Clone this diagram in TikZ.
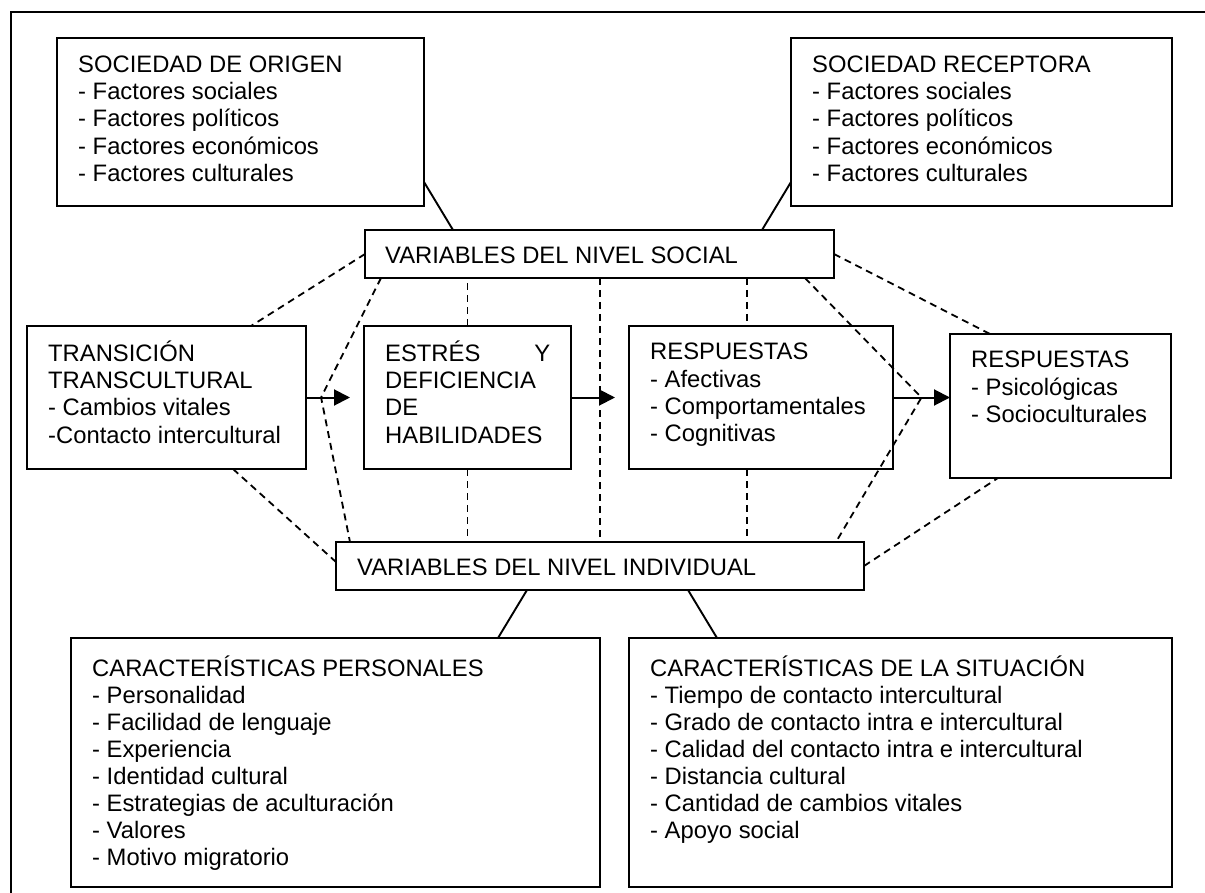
\documentclass[tikz,border=0pt]{standalone}
\usepackage{fontspec}
\setmainfont{Liberation Sans}
\usetikzlibrary{arrows.meta,calc}
\begin{document}
\begin{tikzpicture}[x=1pt,y=-1pt,
  box/.style={draw,line width=2.4pt,inner sep=0pt,outer sep=0pt,anchor=north west},
  txt/.style={anchor=north west,inner sep=0pt,align=left,
    font=\fontsize{23.8}{27.4}\selectfont},
  txtb/.style={txt,font=\fontsize{23.8}{27}\selectfont},
  link/.style={line width=1.9pt},
  dashlink/.style={line width=1.8pt,dash pattern=on 7pt off 5pt},
  flow/.style={line width=2pt,-{Triangle[length=16pt,width=16pt]}}]
\useasboundingbox (0,0) rectangle (1205,893);

% outer frame (top and left edges)
\coordinate (fr) at (1205,12);
\coordinate (fc) at (11,12);
\coordinate (fb) at (11,893);
\draw[line width=2pt] (fr) -- (fc) -- (fb);

% boxes
\node[box,minimum width=367pt,minimum height=168pt] (origen) at (57,38) {};
\node[box,minimum width=381pt,minimum height=168pt] (receptora) at (791,38) {};
\node[box,minimum width=469pt,minimum height=48pt] (social) at (365,230) {};
\node[box,minimum width=279pt,minimum height=143pt] (trans) at (27,326) {};
\node[box,minimum width=207pt,minimum height=143pt] (estres) at (364,326) {};
\node[box,minimum width=264pt,minimum height=143pt] (resp1) at (629,326) {};
\node[box,minimum width=221pt,minimum height=144pt] (resp2) at (950,334) {};
\node[box,minimum width=528pt,minimum height=48pt] (indiv) at (336,542) {};
\node[box,minimum width=529pt,minimum height=249pt] (pers) at (71,638) {};
\node[box,minimum width=543pt,minimum height=249pt] (sit) at (629,638) {};

% texts (first baseline = top + 0.7 baselineskip)
\node[txt] (origen-t) at (78,52.8) {\strut SOCIEDAD DE ORIGEN\\- Factores sociales\\- Factores políticos\\- Factores económicos\\- Factores culturales};
\node[txt] (receptora-t) at (812,52.8) {\strut SOCIEDAD RECEPTORA\\- Factores sociales\\- Factores políticos\\- Factores económicos\\- Factores culturales};
\node[txt] (social-t) at (385,244.3) {\strut VARIABLES DEL NIVEL SOCIAL};
\node[txt] (trans-t) at (48,340.3) {\strut TRANSICIÓN\\TRANSCULTURAL\\- Cambios vitales\\-Contacto intercultural};
\node[txt] (estres-t) at (385,340.3) {\strut\makebox[165pt][l]{ESTRÉS\hfill Y}\\DEFICIENCIA\\DE\\HABILIDADES};
\node[txt] (resp1-t) at (650,340.3) {\strut RESPUESTAS\\- Afectivas\\- Comportamentales\\- Cognitivas};
\node[txt] (resp2-t) at (971,348.3) {\strut RESPUESTAS\\- Psicológicas\\- Socioculturales};
\node[txt] (indiv-t) at (357,556.3) {\strut VARIABLES DEL NIVEL INDIVIDUAL};
\node[txtb] (pers-t) at (92,656.1) {\strut CARACTERÍSTICAS PERSONALES\\- Personalidad\\- Facilidad de lenguaje\\- Experiencia\\- Identidad cultural\\- Estrategias de aculturación\\- Valores\\- Motivo migratorio};
\node[txtb] (sit-t) at (650,656.1) {\strut CARACTERÍSTICAS DE LA SITUACIÓN\\- Tiempo de contacto intercultural\\- Grado de contacto intra e intercultural\\- Calidad del contacto intra e intercultural\\- Distancia cultural\\- Cantidad de cambios vitales\\- Apoyo social};

% solid links between the context boxes and the variable bars
\draw[link] ([yshift=24pt]origen.south east) -- ([xshift=88pt]social.north west);
\draw[link] ([yshift=24pt]receptora.south west) -- ([xshift=397pt]social.north west);
\draw[link] ([xshift=191pt]indiv.south west) -- ([xshift=427pt]pers.north west);
\draw[link] ([xshift=352pt]indiv.south west) -- ([xshift=88pt]sit.north west);

% main flow
\draw[flow] (trans.east) -- ([xshift=-14pt]estres.west);
\draw[flow] (estres.east) -- ([xshift=-14pt]resp1.west);
\draw[flow] (resp1.east) -- (resp1.east -| resp2.west);

% points on the flow arrows reached by the moderating links
\coordinate (m1) at ($(trans.east)!0.26!(estres.west)$);
\coordinate (m3) at ($(resp1.east)!0.5!(resp2.west |- resp1.east)$);

% dashed moderating links
\draw[dashlink] (social.west) -- ([xshift=224pt]trans.north west);
\draw[dashlink] ([xshift=16pt]social.south west) -- (m1) -- ([xshift=14pt]indiv.north west);
\draw[dashlink] (estres.north) -- (estres.north |- social.south);
\draw[dashlink] (estres.south) -- (estres.south |- indiv.north);
\draw[dashlink] ([xshift=235pt]social.south west) -- ([xshift=264pt]indiv.north west);
\draw[dashlink] ([xshift=382pt]social.south west) -- ([xshift=118pt]resp1.north west);
\draw[dashlink] ([xshift=118pt]resp1.south west) -- ([xshift=411pt]indiv.north west);
\draw[dashlink] ([xshift=440pt]social.south west) -- (m3) -- ([xshift=500pt]indiv.north west);
\draw[dashlink] (social.east) -- ([xshift=40pt]resp2.north west);
\draw[dashlink] ([xshift=206pt]trans.south west) -- ([yshift=4pt]indiv.west);
\draw[dashlink] (indiv.east) -- ([xshift=48pt]resp2.south west);
\end{tikzpicture}
\end{document}
